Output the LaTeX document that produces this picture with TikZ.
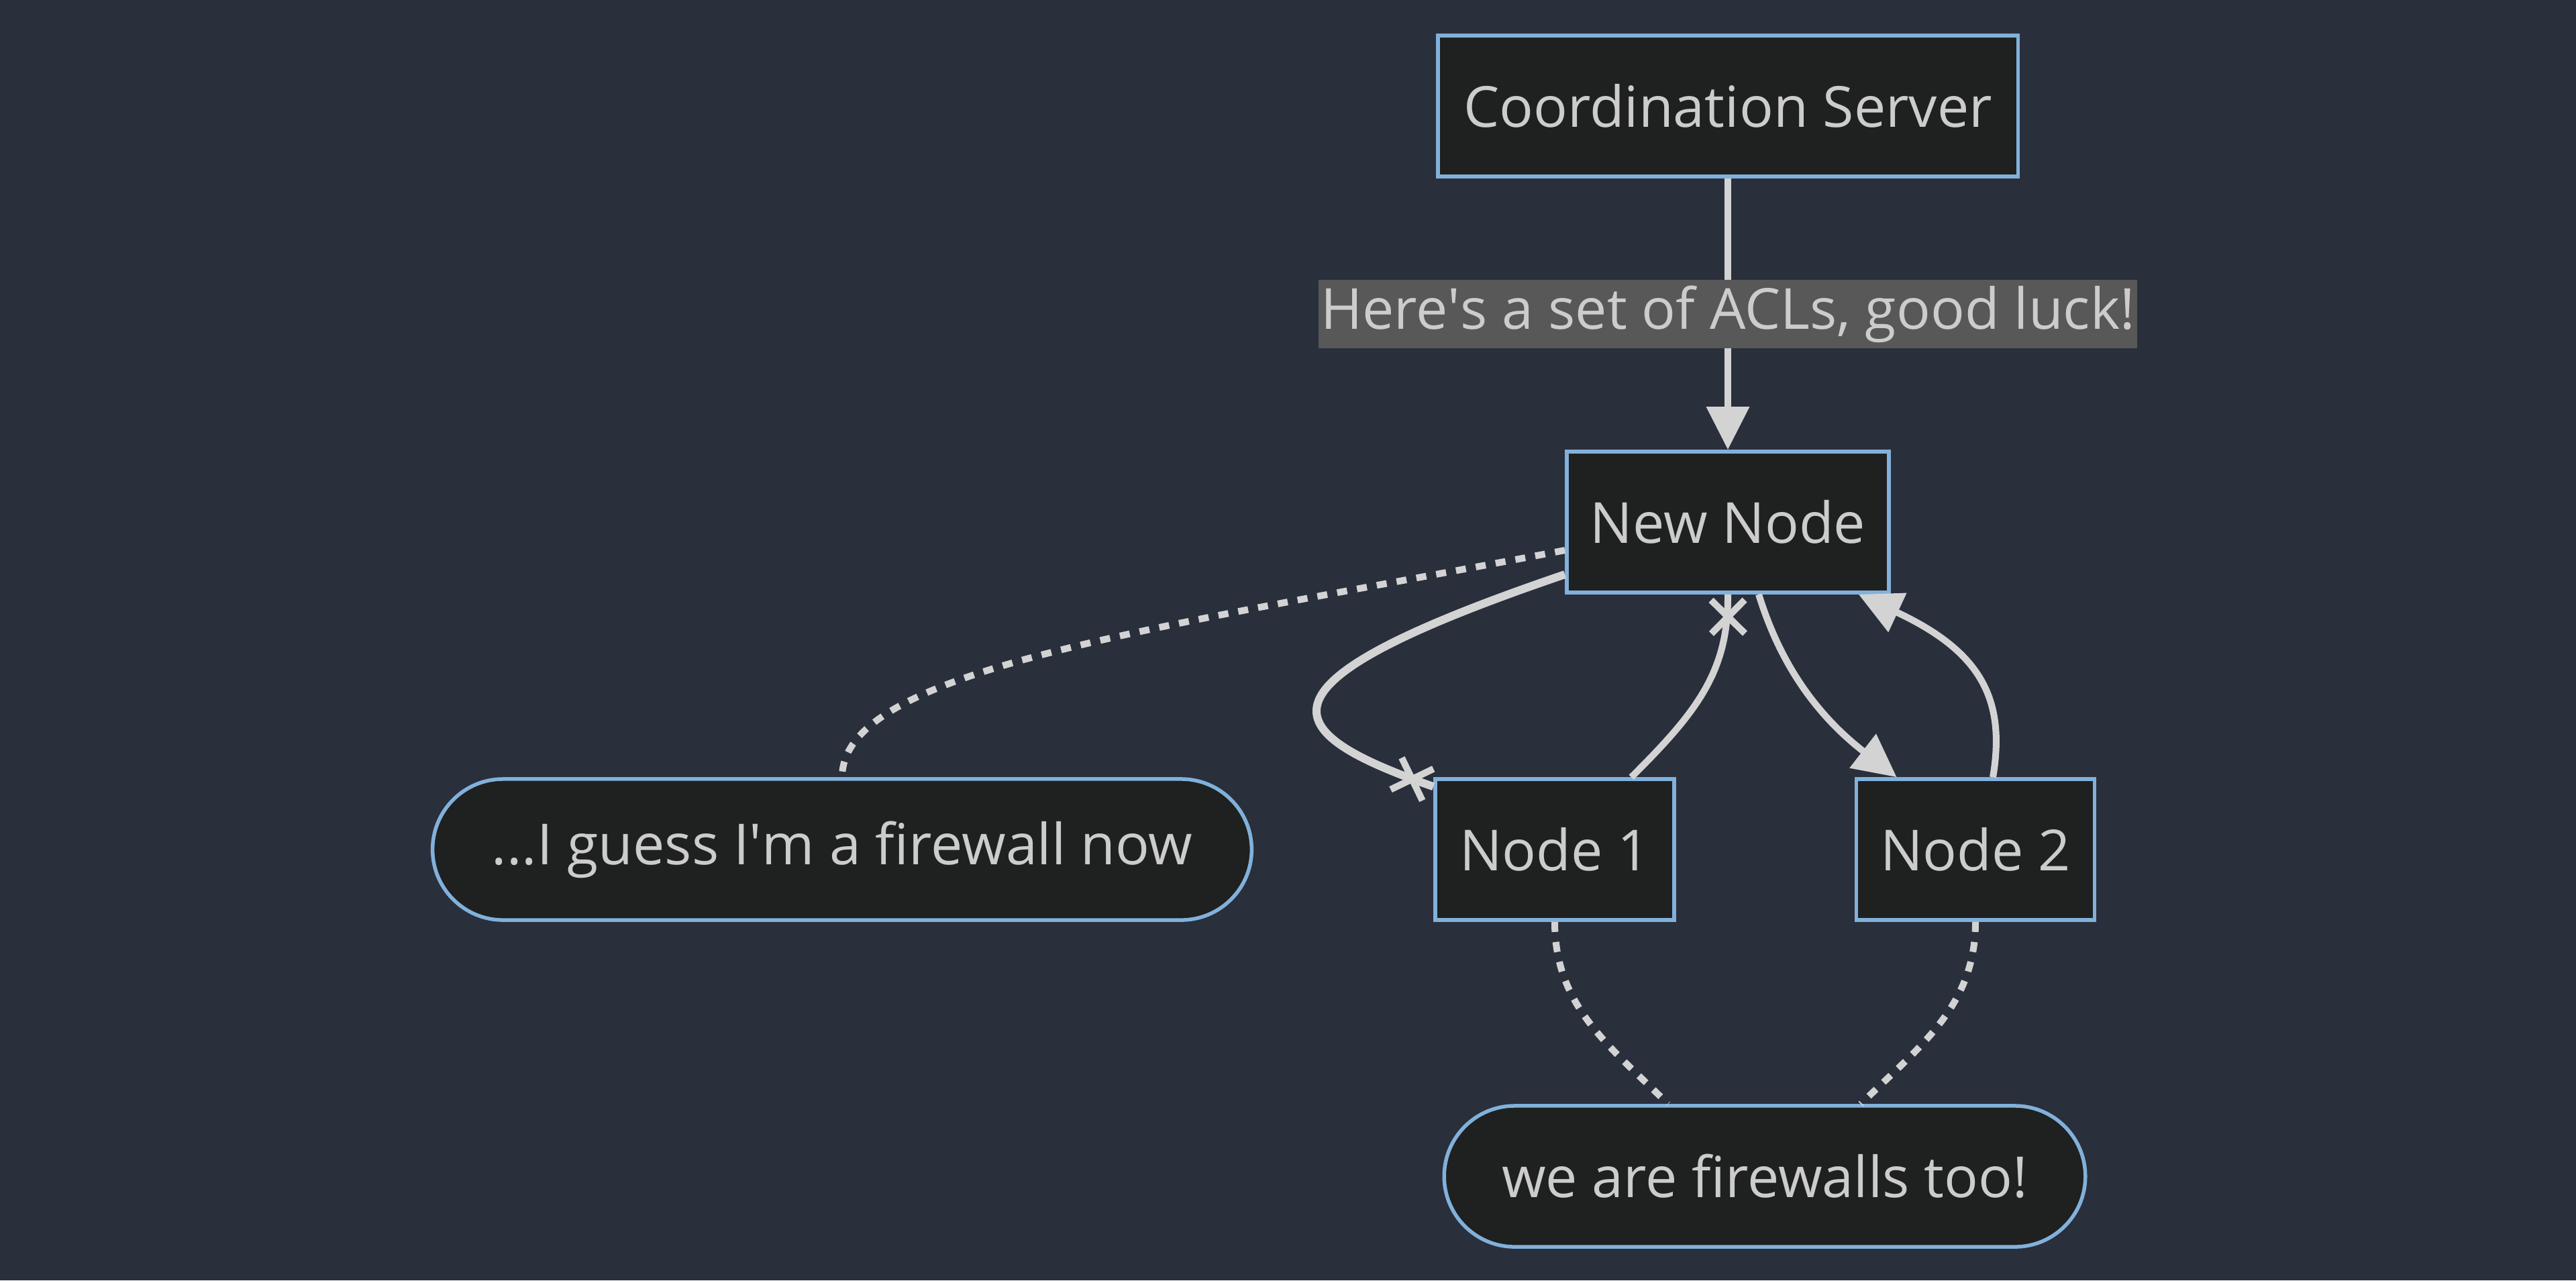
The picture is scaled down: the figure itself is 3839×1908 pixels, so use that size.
\documentclass[tikz,border=0pt]{standalone}
\usepackage{fontspec}
\setmainfont{Open Sans}
\usetikzlibrary{arrows.meta, shapes.misc, decorations.markings}

\definecolor{canvas}{RGB}{42,47,60}
\definecolor{boxfill}{RGB}{31,32,32}
\definecolor{boxline}{RGB}{129,177,219}
\definecolor{linegrey}{RGB}{211,211,211}
\definecolor{ink}{RGB}{204,204,204}
\definecolor{tagfill}{RGB}{88,88,88}

\begin{document}
\begin{tikzpicture}[x = 0.01cm, y = -0.01cm,
	> = {Triangle[length = 0.64cm, width = 0.62cm]},
	every node/.style = {font = \fontsize{24}{29}\selectfont, text = ink},
	block/.style = {draw = boxline, fill = boxfill, line width = 0.055cm,
		minimum height = 2.1cm, inner sep = 0pt},
	pill/.style = {block, rounded rectangle},
	link/.style = {draw = linegrey, line width = 0.1cm},
	dotlink/.style = {link, dash pattern = on 0.15cm off 0.15cm},
	crossend/.style = {postaction = {decorate, decoration = {markings,
		mark = at position 0.999 with {\draw [linegrey, line width = 0.1cm]
			(-0.58cm, -0.25cm) -- (-0.08cm, 0.25cm)
			(-0.58cm, 0.25cm) -- (-0.08cm, -0.25cm);}}}}]
	
	% Background
	
	\fill [canvas] (0, 0) rectangle (3839, 1908);
	
	% Nodes
	
	\node [block, minimum width = 8.64cm] (server) at (2575, 158) {Coordination Server};
	\node [block, minimum width = 4.8cm] (newnode) at (2575, 778) {New Node};
	\node [block, minimum width = 3.56cm] (node1) at (2317, 1266) {Node 1};
	\node [block, minimum width = 3.55cm] (node2) at (2944, 1266) {Node 2};
	\node [pill, minimum width = 12.2cm] (firewall) at (1255, 1266)
		{...I guess I\textquotesingle m a firewall now};
	\node [pill, minimum width = 9.55cm] (firewalls) at (2630, 1753) {we are firewalls too!};
	
	% ACLs from the server
	
	\draw [link, ->] (server.south) -- node [fill = tagfill, inner xsep = 0.03cm,
		inner ysep = 0pt, minimum height = 1.01cm]
		{Here\textquotesingle s a set of ACLs, good luck!} (newnode.north);
	
	% Links between the nodes
	
	\draw [link, line width = 0.12cm, crossend] ([yshift = -0.78cm] newnode.west)
		.. controls (1850, 1020) and (1900, 1090) .. ([yshift = -0.14cm] node1.north west);
	\draw [link, crossend] ([xshift = 1.14cm] node1.north)
		.. controls (2530, 1060) and (2576, 1000) .. (newnode.south);
	
	\begin{scope}[->]
		\draw [link] ([xshift = 0.46cm] newnode.south)
			.. controls (2650, 980) and (2700, 1060) .. ([xshift = 0.63cm] node2.north west);
		\draw [link] ([xshift = 0.26cm] node2.north)
			.. controls (2990, 1040) and (2950, 970) .. ([xshift = -0.48cm] newnode.south east);
	\end{scope}
	
	% Dotted links to the firewalls
	
	\draw [dotlink] ([yshift = -0.42cm] newnode.west)
		.. controls (1700, 940) and (1255, 1000) .. (firewall.north);
	\draw [dotlink] (node1.south)
		.. controls (2317, 1500) and (2400, 1560) .. ([xshift = -1.44cm] firewalls.north);
	\draw [dotlink] (node2.south)
		.. controls (2944, 1500) and (2860, 1560) .. ([xshift = 1.43cm] firewalls.north);

\end{tikzpicture}
\end{document}
